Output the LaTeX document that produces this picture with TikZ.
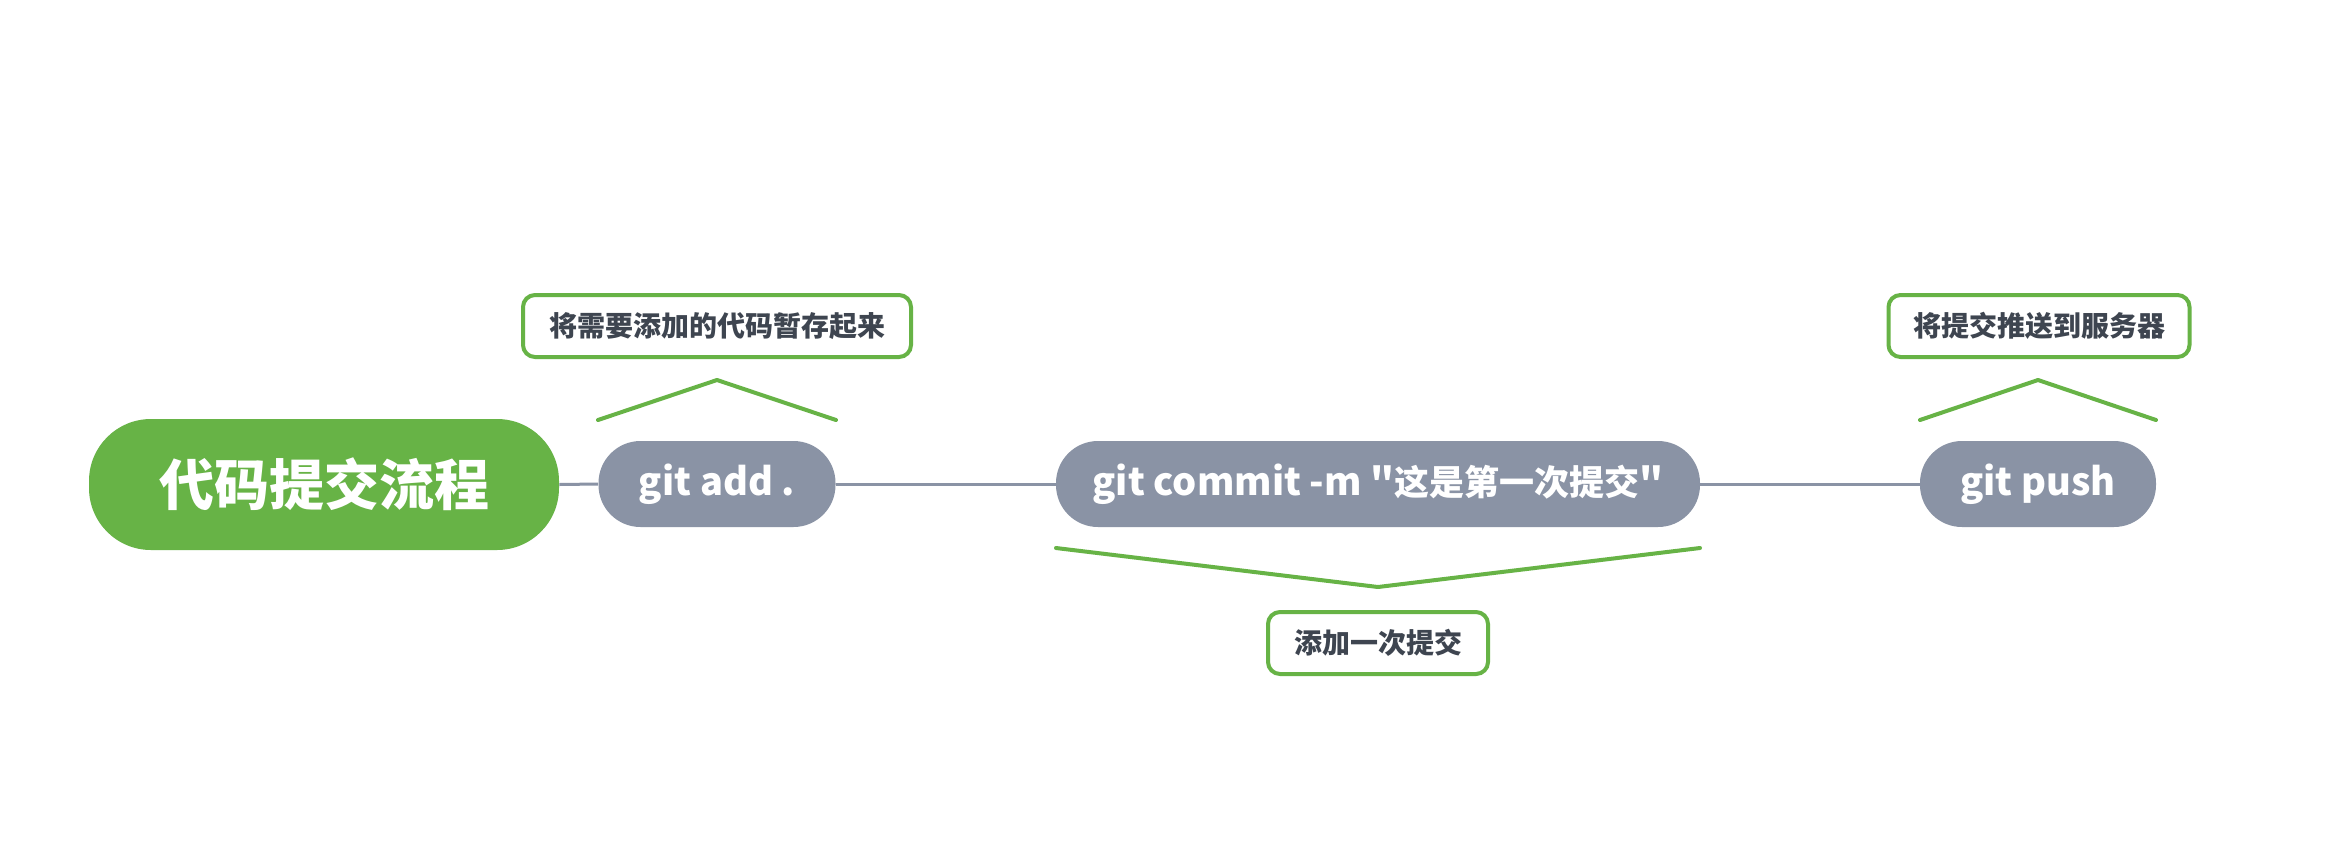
\documentclass[tikz,border=0pt]{standalone}
\usepackage{fontspec}
\newfontfamily\cjk{Noto Sans CJK SC}
\definecolor{mgreen}{HTML}{67B346}
\definecolor{mgray}{HTML}{8A93A5}
\definecolor{mtext}{HTML}{3E4550}
\begin{document}
\begin{tikzpicture}[x=0.5pt,y=-0.5pt,
  root/.style={fill=mgreen, text=white, rounded corners=31pt, minimum width=235pt, minimum height=65.5pt, inner sep=0pt, font={\fontsize{27.5}{30}\cjk\bfseries}},
  topic/.style={fill=mgray, text=white, rounded corners=21pt, minimum height=43pt, inner sep=0pt, font={\fontsize{19}{21}\cjk\bfseries}},
  callout/.style={draw=mgreen, line width=2pt, fill=white, rounded corners=6pt, minimum height=31pt, inner sep=0pt, text=mtext, font={\fontsize{14}{16}\cjk\bfseries}},
  link/.style={draw=mgray, line width=1.5pt},
  brace/.style={draw=mgreen, line width=2pt, line cap=round, line join=round}]
\useasboundingbox (0,0) rectangle (2336,842);
\fill[white] (0,0) rectangle (2336,842);
\node[root] (root) at (324,484.5) {代码提交流程};
\node[topic, minimum width=118.5pt] (add) at (717,484) {git add .};
\node[topic, minimum width=322pt] (commit) at (1378,484) {git commit -m "{\fontsize{17.5}{20}\selectfont 这是第一次提交}"};
\node[topic, minimum width=118pt] (push) at (2038,484) {git push};
\draw[link] (root.east) -- (add.west);
\draw[link] (add.east) -- (commit.west);
\draw[link] (commit.east) -- (push.west);
\node[callout, minimum width=194pt] (c1) at (717,326) {将需要添加的代码暂存起来};
\node[callout, minimum width=110pt] (c2) at (1378,643) {添加一次提交};
\node[callout, minimum width=150.5pt] (c3) at (2039,326) {将提交推送到服务器};
\coordinate (b1l) at (598,420);
\coordinate (b1m) at (717,380);
\coordinate (b1r) at (836,420);
\coordinate (b2l) at (1056,548);
\coordinate (b2m) at (1378,587);
\coordinate (b2r) at (1700,548);
\coordinate (b3l) at (1920,420);
\coordinate (b3m) at (2038,380);
\coordinate (b3r) at (2156,420);
\draw[brace] (b1l) -- (b1m) -- (b1r);
\draw[brace] (b2l) -- (b2m) -- (b2r);
\draw[brace] (b3l) -- (b3m) -- (b3r);
\end{tikzpicture}
\end{document}
